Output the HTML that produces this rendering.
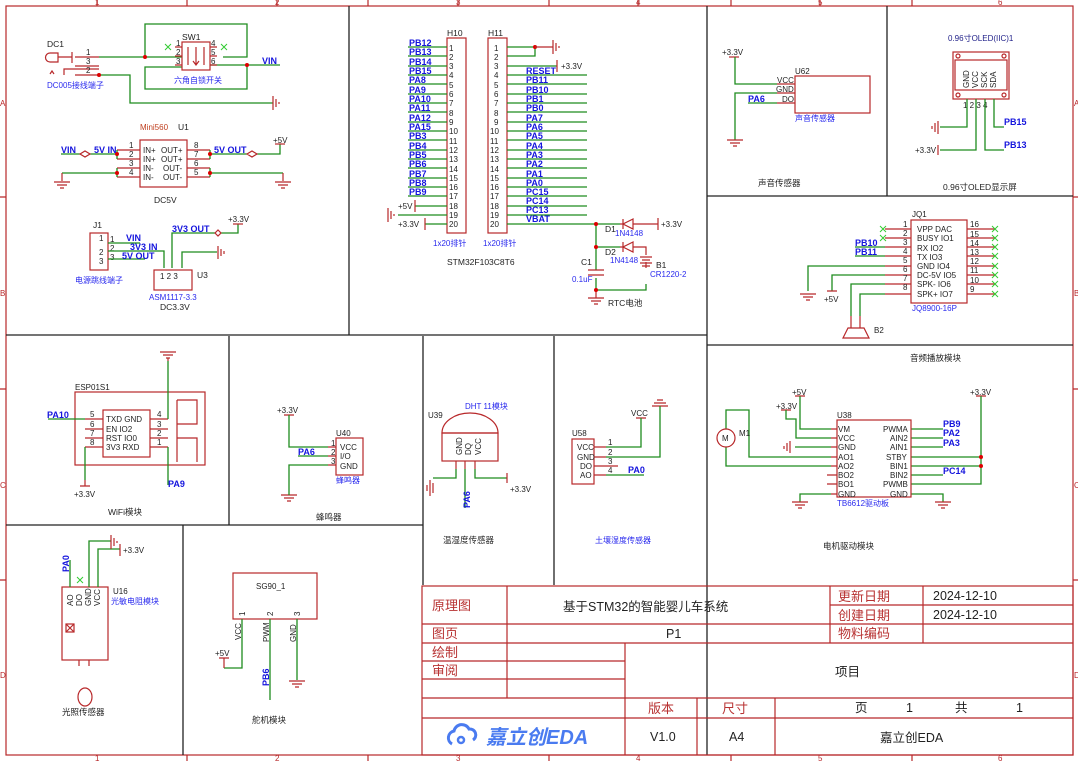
<!DOCTYPE html>
<html><head><meta charset="utf-8"><style>
html,body{margin:0;padding:0;background:#fff}
svg{display:block}
text{font-family:"Liberation Sans","Noto Sans CJK SC",sans-serif}
.r{stroke:#b8282a;fill:none;stroke-width:1.2}
.g{stroke:#1e8c1e;fill:none;stroke-width:1.3}
.k{stroke:#222;fill:none;stroke-width:1.3}
.b{fill:#1515dd;font-weight:bold;font-size:9px}
.bl{fill:#2a2aee;font-size:8px}
.t{fill:#222;font-size:8.5px}
.n{fill:#222;font-size:8px}
.c{fill:#222;font-size:8px}
.tb{fill:#b83232;font-size:13px}
.tk{fill:#222;font-size:12.5px}
</style></head><body>
<svg width="1078" height="761" viewBox="0 0 1078 761" xmlns="http://www.w3.org/2000/svg">
<rect x="0" y="0" width="1078" height="761" fill="#fff"/>
<!-- outer frame -->
<rect x="6" y="6" width="1067" height="749" class="r" stroke-width="1.5"/>
<g class="r">
<path d="M97 0V6M187 0V6M277 0V6M368 0V6M458 0V6M549 0V6M638 0V6M731 0V6M820 0V6M912 0V6"/>
<path d="M187 755V761M368 755V761M549 755V761M731 755V761M912 755V761"/>
<path d="M0 197H6M0 389H6M0 580H6M1073 197H1078M1073 389H1078M1073 580H1078"/>
</g>
<g fill="#b8282a" font-size="8"><text x="95" y="5">1</text><text x="275" y="5">2</text><text x="456" y="5">3</text><text x="636" y="5">4</text><text x="818" y="5">5</text><text x="998" y="5">6</text>
<text x="95" y="761">1</text><text x="275" y="761">2</text><text x="456" y="761">3</text><text x="636" y="761">4</text><text x="818" y="761">5</text><text x="998" y="761">6</text>
<text x="0" y="106">A</text><text x="0" y="296">B</text><text x="0" y="488">C</text><text x="0" y="678">D</text>
<text x="1074" y="106">A</text><text x="1074" y="296">B</text><text x="1074" y="488">C</text><text x="1074" y="678">D</text></g>
<!-- section lines -->
<g class="k">
<path d="M349 6V335M6 335H707M707 6V755M887 6V196M707 196H1073M707 345H1073"/>
<path d="M229 336V525M423 336V585M554 336V585M6 525H423M183 525V755"/>
</g>

<!-- ===== Power section ===== -->
<text x="47" y="47" class="t">DC1</text>
<path class="r" d="M58 53h-8a4 4 0 0 0 0 9h8zM72 52v11M58 57h14"/>
<path class="r" d="M75 57h24M75 66h24M75 75h24M50 74l2-3 2 3M64 75v-6h35"/>
<text x="86" y="55" class="n">1</text><text x="86" y="64" class="n">3</text><text x="86" y="73" class="n">2</text>
<path class="g" d="M99 57H182M99 75h31v28h143M145 57V24h102v33h-24M210 65h70M247 65v24H145V67h37"/>
<circle cx="145" cy="57" r="2" fill="#d00"/><circle cx="247" cy="65" r="2" fill="#d00"/><circle cx="99" cy="75" r="2" fill="#d00"/>
<rect x="182" y="42" width="28" height="28" class="r"/>
<path class="r" d="M175 47h7M175 56h7M175 65h7M210 47h7M210 56h7M210 65h7M196 47v18M193 61l3 4 3-4M188 47v18M204 47v18"/>
<text x="182" y="40" class="t">SW1</text>
<g class="n"><text x="176" y="46">1</text><text x="176" y="55">2</text><text x="176" y="64">3</text><text x="211" y="46">4</text><text x="211" y="55">5</text><text x="211" y="64">6</text></g>
<path stroke="#3c3" d="M165 44l6 6M171 44l-6 6M221 44l6 6M227 44l-6 6"/>
<text x="262" y="64" class="b">VIN</text>
<text x="174" y="83" class="bl">六角自锁开关</text>
<text x="47" y="88" class="bl">DC005接线端子</text>
<path class="r" d="M273 96v14M276 99v8M279 102v2"/>

<text x="140" y="130" fill="#c04020" font-size="8">Mini560</text><text x="178" y="130" class="t">U1</text>
<rect x="140" y="140" width="47" height="47" class="r"/>
<path class="r" d="M117 150h23M117 159h23M117 168h23M117 177h23M187 150h23M187 159h23M187 168h23M187 177h23"/>
<g class="n"><text x="129" y="148">1</text><text x="129" y="157">2</text><text x="129" y="166">3</text><text x="129" y="175">4</text><text x="194" y="148">8</text><text x="194" y="157">7</text><text x="194" y="166">6</text><text x="194" y="175">5</text>
<text x="143" y="153">IN+</text><text x="143" y="162">IN+</text><text x="143" y="171">IN-</text><text x="143" y="180">IN-</text>
<text x="161" y="153">OUT+</text><text x="161" y="162">OUT+</text><text x="163" y="171">OUT-</text><text x="163" y="180">OUT-</text></g>
<path class="g" d="M61 154h19M90 154h27M117 150v9M62 173h55M117 168v9M210 150v9M210 154h37M257 154h23v-10M210 168v9M210 173h73"/>
<path class="r" d="M80 154l5-3 5 3-5 3zM247 154l5-3 5 3-5 3z"/>
<circle cx="117" cy="154" r="2" fill="#d00"/><circle cx="117" cy="173" r="2" fill="#d00"/><circle cx="210" cy="154" r="2" fill="#d00"/><circle cx="210" cy="173" r="2" fill="#d00"/>
<text x="61" y="153" class="b">VIN</text><text x="94" y="153" class="b">5V IN</text><text x="214" y="153" class="b">5V OUT</text>
<text x="273" y="143" class="n">+5V</text><path class="r" d="M275 144h10"/>
<path class="r" d="M62 173v8M54 182h16M57 185h10M60 188h4M283 173v8M275 182h16M278 185h10M281 188h4"/>
<text x="154" y="203" class="t">DC5V</text>

<text x="93" y="228" class="t">J1</text>
<rect x="90" y="233" width="18" height="37" class="r"/>
<g class="n"><text x="99" y="241">1</text><text x="99" y="255">2</text><text x="99" y="264">3</text><text x="110" y="242">1</text><text x="110" y="251">2</text><text x="110" y="260">3</text></g>
<path class="g" d="M108 243h32M108 251h56v17M108 259h37M172 268v-35h43M221 233h17v-9M182 268v-16h35"/>
<path class="r" d="M215 233l3-3 3 3-3 3z"/>
<text x="126" y="241" class="b">VIN</text><text x="130" y="250" class="b">3V3 IN</text><text x="122" y="259" class="b">5V OUT</text>
<text x="172" y="232" class="b">3V3 OUT</text><text x="228" y="222" class="n">+3.3V</text><path class="r" d="M233 224h10"/>
<path class="r" d="M218 246v13M221 249v7M224 251v3"/>
<rect x="154" y="270" width="38" height="20" class="r"/>
<g class="n"><text x="160" y="279">1 2 3</text></g>
<text x="197" y="278" class="t">U3</text>
<text x="149" y="300" class="bl">ASM1117-3.3</text><text x="160" y="310" class="t">DC3.3V</text>
<text x="75" y="283" class="bl">电源跳线端子</text>

<!-- ===== H10/H11 ===== -->
<text x="447" y="36" class="t">H10</text><text x="488" y="36" class="t">H11</text>
<rect x="447" y="38" width="19" height="195" class="r"/>
<rect x="488" y="38" width="19" height="195" class="r"/>
<g class="n">
<text x="449" y="51">1</text><text x="449" y="60">2</text><text x="449" y="69">3</text><text x="449" y="78">4</text><text x="449" y="88">5</text><text x="449" y="97">6</text><text x="449" y="106">7</text><text x="449" y="116">8</text><text x="449" y="125">9</text><text x="449" y="134">10</text><text x="449" y="144">11</text><text x="449" y="153">12</text><text x="449" y="162">13</text><text x="449" y="172">14</text><text x="449" y="181">15</text><text x="449" y="190">16</text><text x="449" y="199">17</text><text x="449" y="209">18</text><text x="449" y="218">19</text><text x="449" y="227">20</text>
<text x="494" y="51">1</text><text x="494" y="60">2</text><text x="494" y="69">3</text><text x="494" y="78">4</text><text x="494" y="88">5</text><text x="494" y="97">6</text><text x="494" y="106">7</text><text x="494" y="116">8</text><text x="494" y="125">9</text><text x="490" y="134">10</text><text x="490" y="144">11</text><text x="490" y="153">12</text><text x="490" y="162">13</text><text x="490" y="172">14</text><text x="490" y="181">15</text><text x="490" y="190">16</text><text x="490" y="199">17</text><text x="490" y="209">18</text><text x="490" y="218">19</text><text x="490" y="227">20</text>
</g>
<path class="g" d="M408 47h39M408 56h39M408 66h39M408 75h39M408 84h39M408 94h39M408 103h39M408 112h39M408 122h39M408 131h39M408 140h39M408 150h39M408 159h39M408 168h39M408 178h39M408 187h39M408 196h39M415 206h32M398 215h49M425 224h22"/>
<path class="g" d="M507 47h28M507 56h28v-9M507 66h50M507 75h80M507 84h80M507 94h80M507 103h80M507 112h80M507 122h80M507 131h80M507 140h80M507 150h80M507 159h80M507 168h80M507 178h80M507 187h80M507 196h80M507 206h80M507 215h80M507 224h89"/>
<circle cx="535" cy="47" r="2" fill="#d00"/>
<path class="r" d="M535 47h18M553 40v14M556 43v8M559 46v2M557 60v12M415 200v12M425 218v12M388 208v14M391 211v8M394 214v2"/>
<g class="b" font-size="8.5">
<text x="409" y="46">PB12</text><text x="409" y="55">PB13</text><text x="409" y="65">PB14</text><text x="409" y="74">PB15</text><text x="409" y="83">PA8</text><text x="409" y="93">PA9</text><text x="409" y="102">PA10</text><text x="409" y="111">PA11</text><text x="409" y="121">PA12</text><text x="409" y="130">PA15</text><text x="409" y="139">PB3</text><text x="409" y="149">PB4</text><text x="409" y="158">PB5</text><text x="409" y="167">PB6</text><text x="409" y="177">PB7</text><text x="409" y="186">PB8</text><text x="409" y="195">PB9</text>
<text x="526" y="74">RESET</text><text x="526" y="83">PB11</text><text x="526" y="93">PB10</text><text x="526" y="102">PB1</text><text x="526" y="111">PB0</text><text x="526" y="121">PA7</text><text x="526" y="130">PA6</text><text x="526" y="139">PA5</text><text x="526" y="149">PA4</text><text x="526" y="158">PA3</text><text x="526" y="167">PA2</text><text x="526" y="177">PA1</text><text x="526" y="186">PA0</text><text x="526" y="195">PC15</text><text x="526" y="204">PC14</text><text x="526" y="213">PC13</text><text x="526" y="222">VBAT</text>
</g>
<text x="398" y="209" class="n">+5V</text><text x="398" y="227" class="n">+3.3V</text><text x="561" y="69" class="n">+3.3V</text>
<text x="433" y="246" class="bl">1x20排针</text><text x="483" y="246" class="bl">1x20排针</text>
<text x="447" y="265" class="t">STM32F103C8T6</text>
<!-- RTC -->
<path class="g" d="M596 224h24M596 224v46M596 247h24M596 278v12h50v-6"/>
<path class="r" d="M620 224h3M633 224h25M620 247h3M633 247h13v8M646 262v6M658 218v12"/>
<path class="r" d="M623 219v10M633 219l-10 5 10 5zM623 242v10M633 242l-10 5 10 5zM588 270h16M588 275h16M596 290v8M588 298h16M591 301h10M594 304h4M640 257h12M642 260h8M640 263h12M642 266h8"/>
<circle cx="596" cy="224" r="2" fill="#d00"/><circle cx="596" cy="247" r="2" fill="#d00"/><circle cx="596" cy="290" r="2" fill="#d00"/>
<text x="605" y="232" class="t">D1</text><text x="615" y="236" class="bl">1N4148</text>
<text x="605" y="255" class="t">D2</text><text x="610" y="263" class="bl">1N4148</text>
<text x="581" y="265" class="t">C1</text><text x="572" y="282" class="bl">0.1uF</text>
<text x="656" y="268" class="t">B1</text><text x="650" y="277" class="bl">CR1220-2</text>
<text x="661" y="227" class="n">+3.3V</text><text x="608" y="306" class="t">RTC电池</text>

<!-- ===== Sound ===== -->
<text x="722" y="55" class="n">+3.3V</text>
<path class="r" d="M729 57h10"/>
<path class="g" d="M735 57v27h42M777 93h-42v47M748 103h29"/>
<path class="r" d="M777 84h18M777 93h18M777 103h18M727 140h16M730 143h10M733 146h4"/>
<rect x="795" y="76" width="75" height="37" class="r"/>
<text x="795" y="74" class="n">U62</text>
<g class="n"><text x="777" y="83">VCC</text><text x="776" y="92">GND</text><text x="782" y="102">DO</text></g>
<text x="748" y="102" class="b">PA6</text>
<text x="795" y="121" class="bl">声音传感器</text>
<text x="758" y="186" class="t">声音传感器</text>
<!-- OLED -->
<text x="948" y="41" fill="#22228a" font-size="8">0.96寸OLED(IIC)1</text>
<rect x="953" y="52" width="56" height="47" class="r"/><rect x="955" y="60" width="52" height="30" class="r"/>
<circle cx="958" cy="56" r="2" class="r"/><circle cx="1004" cy="56" r="2" class="r"/><circle cx="958" cy="95" r="2" class="r"/><circle cx="1004" cy="95" r="2" class="r"/>
<g class="n" font-size="7.5"><text transform="translate(969,88) rotate(-90)">GND</text><text transform="translate(978,88) rotate(-90)">VCC</text><text transform="translate(987,88) rotate(-90)">SCK</text><text transform="translate(996,88) rotate(-90)">SDA</text>
<text x="963" y="108">1 2 3 4</text></g>
<path class="g" d="M967 99v28h-27M976 99v51h-36M985 99v51h19M994 99v28h10"/>
<path class="r" d="M938 121v13M935 123v9M932 126v3M938 145v10"/>
<text x="915" y="153" class="n">+3.3V</text>
<text x="1004" y="125" class="b">PB15</text><text x="1004" y="148" class="b">PB13</text>
<text x="943" y="190" class="t">0.96寸OLED显示屏</text>
<!-- JQ -->
<text x="912" y="217" class="n">JQ1</text>
<rect x="911" y="220" width="56" height="83" class="r"/>
<path class="r" d="M885 229h26M885 238h26M885 247h26M885 256h26M885 266h26M885 275h26M885 284h26M885 294h26M967 229h28M967 238h28M967 247h28M967 256h28M967 266h28M967 275h28M967 284h28M967 294h28"/>
<path stroke="#3c3" d="M880 226l6 6M886 226l-6 6M880 235l6 6M886 235l-6 6M992 226l6 6M998 226l-6 6M992 235l6 6M998 235l-6 6M992 244l6 6M998 244l-6 6M992 253l6 6M998 253l-6 6M992 263l6 6M998 263l-6 6M992 272l6 6M998 272l-6 6M992 281l6 6M998 281l-6 6M992 291l6 6M998 291l-6 6"/>
<g class="n"><text x="903" y="227">1</text><text x="903" y="236">2</text><text x="903" y="245">3</text><text x="903" y="254">4</text><text x="903" y="263">5</text><text x="903" y="272">6</text><text x="903" y="281">7</text><text x="903" y="290">8</text>
<text x="970" y="227">16</text><text x="970" y="237">15</text><text x="970" y="246">14</text><text x="970" y="255">13</text><text x="970" y="264">12</text><text x="970" y="273">11</text><text x="970" y="283">10</text><text x="970" y="292">9</text>
<text x="917" y="232">VPP  DAC</text><text x="917" y="241">BUSY IO1</text><text x="917" y="251">RX      IO2</text><text x="917" y="260">TX      IO3</text><text x="917" y="269">GND   IO4</text><text x="917" y="278">DC-5V IO5</text><text x="917" y="287">SPK-   IO6</text><text x="917" y="297">SPK+  IO7</text></g>
<path class="g" d="M855 247h30M855 256h30M885 266h-77v25M885 275h-53v16M885 284h-34v32M885 294h-25v22"/>
<path class="r" d="M800 294h16M803 297h10M806 300h4M827 291h10M851 316v12M860 316v12M848 328h16l5 10h-26z"/>
<text x="855" y="246" class="b">PB10</text><text x="855" y="255" class="b">PB11</text>
<text x="824" y="302" class="n">+5V</text>
<text x="912" y="311" class="bl">JQ8900-16P</text>
<text x="874" y="333" class="n">B2</text>
<text x="910" y="361" class="t">音频播放模块</text>

<!-- ===== Motor ===== -->
<text x="792" y="395" class="n">+5V</text><text x="776" y="409" class="n">+3.3V</text><text x="970" y="395" class="n">+3.3V</text>
<path class="r" d="M795 396h10M781 410h10M976 396h10"/>
<path class="g" d="M800 396v33h31M786 410v9h10v19h35M795 447h36M726 429v-19h23v47h82M726 447v19h105M831 494h-31v8M911 429h32M911 438h32M911 447h32M911 457h70M911 466h70M911 475h32M911 484h70v-88M911 494h32v8"/>
<path class="r" d="M831 429h6M831 438h6M831 447h6M831 457h6M831 466h6M827 475h10M827 484h10M831 494h6M790 441v12M787 443v8M784 446v3M792 502h16M795 505h10M798 508h4M935 502h16M938 505h10M941 508h4"/>
<circle cx="726" cy="438" r="9" class="r"/><text x="722" y="441" class="n">M</text><text x="739" y="436" class="n">M1</text>
<circle cx="981" cy="457" r="2" fill="#d00"/><circle cx="981" cy="466" r="2" fill="#d00"/>
<rect x="837" y="420" width="74" height="77" class="r"/>
<text x="837" y="418" class="n">U38</text>
<g class="n"><text x="838" y="432">VM</text><text x="838" y="441">VCC</text><text x="838" y="450">GND</text><text x="838" y="460">AO1</text><text x="838" y="469">AO2</text><text x="838" y="478">BO2</text><text x="838" y="487">BO1</text><text x="838" y="497">GND</text>
<text x="883" y="432">PWMA</text><text x="890" y="441">AIN2</text><text x="890" y="450">AIN1</text><text x="886" y="460">STBY</text><text x="890" y="469">BIN1</text><text x="890" y="478">BIN2</text><text x="883" y="487">PWMB</text><text x="890" y="497">GND</text></g>
<text x="943" y="427" class="b">PB9</text><text x="943" y="436" class="b">PA2</text><text x="943" y="446" class="b">PA3</text><text x="943" y="474" class="b">PC14</text>
<text x="837" y="506" class="bl">TB6612驱动板</text>
<text x="823" y="549" class="t">电机驱动模块</text>

<!-- ===== WiFi ===== -->
<text x="75" y="390" class="n">ESP01S1</text>
<rect x="75" y="392" width="130" height="73" class="r"/>
<rect x="103" y="410" width="47" height="47" class="r"/>
<path class="r" d="M177 400h20v24h-20M177 400v62M177 438h20v24M160 352h16M163 355h10M166 358h4M168 358v3M85 480v6M80 486h10"/>
<path class="r" d="M85 419h18M85 429h18M85 438h18M85 447h18M150 419h18M150 429h18M150 438h18M150 447h18"/>
<path class="g" d="M48 419h37M168 419V361M85 447v33M168 447v38"/>
<g class="n"><text x="90" y="417">5</text><text x="90" y="427">6</text><text x="90" y="436">7</text><text x="90" y="445">8</text><text x="157" y="417">4</text><text x="157" y="427">3</text><text x="157" y="436">2</text><text x="157" y="445">1</text>
<text x="106" y="422">TXD  GND</text><text x="106" y="432">EN       IO2</text><text x="106" y="441">RST    IO0</text><text x="106" y="450">3V3   RXD</text></g>
<text x="47" y="418" class="b">PA10</text><text x="168" y="487" class="b">PA9</text>
<text x="74" y="497" class="n">+3.3V</text>
<text x="108" y="515" class="t">WiFi模块</text>
<!-- buzzer -->
<text x="277" y="413" class="n">+3.3V</text>
<path class="r" d="M284 415h10M328 447h8M328 456h8M328 465h8M281 495h16M284 498h10M287 501h4"/>
<path class="g" d="M289 415v32h39M298 456h30M328 465h-39v30"/>
<rect x="336" y="438" width="27" height="37" class="r"/>
<text x="336" y="436" class="n">U40</text>
<g class="n"><text x="340" y="450">VCC</text><text x="340" y="459">I/O</text><text x="340" y="469">GND</text><text x="331" y="446">1</text><text x="331" y="455">2</text><text x="331" y="464">3</text></g>
<text x="298" y="455" class="b">PA6</text>
<text x="336" y="483" class="bl">蜂鸣器</text>
<text x="316" y="520" class="t">蜂鸣器</text>
<!-- DHT -->
<text x="428" y="418" class="n">U39</text><text x="465" y="409" class="bl">DHT 11模块</text>
<path class="r" d="M442 433a28 20 0 0 1 56 0z"/>
<rect x="442" y="433" width="56" height="28" class="r"/>
<g class="n" font-size="7.5"><text transform="translate(462,455) rotate(-90)">GND</text><text transform="translate(471,455) rotate(-90)">DQ</text><text transform="translate(481,455) rotate(-90)">VCC</text></g>
<path class="r" d="M456 461v8M465 461v8M475 461v8M430 480v16M433 483v10M427 485v6"/>
<path class="g" d="M456 469v9h-23M465 469v39M475 469v9h32"/>
<path class="r" d="M507 473v10"/>
<text x="510" y="492" class="n">+3.3V</text>
<text transform="translate(470,508) rotate(-90)" class="b">PA6</text>
<text x="443" y="543" class="t">温湿度传感器</text>
<!-- soil -->
<text x="572" y="436" class="n">U58</text>
<rect x="572" y="439" width="22" height="45" class="r"/>
<g class="n"><text x="577" y="450">VCC</text><text x="577" y="460">GND</text><text x="580" y="469">DO</text><text x="580" y="478">AO</text><text x="608" y="445">1</text><text x="608" y="455">2</text><text x="608" y="464">3</text><text x="608" y="473">4</text></g>
<path class="r" d="M594 447h12M594 457h12M594 466h24M594 475h12M636 418h10M652 406h16M654 403h12M657 400h6"/>
<path class="g" d="M606 447h35v-29M606 457h54v-51M606 475h38"/>
<text x="631" y="416" class="n">VCC</text>
<text x="628" y="473" class="b">PA0</text>
<text x="595" y="543" class="bl">土壤湿度传感器</text>
<!-- light -->
<rect x="62" y="587" width="46" height="73" class="r"/>
<g class="n" font-size="7.5"><text transform="translate(73,606) rotate(-90)">AO</text><text transform="translate(82,606) rotate(-90)">DO</text><text transform="translate(91,606) rotate(-90)">GND</text><text transform="translate(100,606) rotate(-90)">VCC</text></g>
<path class="g" d="M70 560v27M89 587V541h22M98 587v-38h22"/>
<path class="r" d="M111 535v14M114 538v8M117 541v2M120 544v12M79 660v6M89 660v6"/>
<path stroke="#3c3" d="M77 577l6 6M83 577l-6 6"/>
<text transform="translate(69,572) rotate(-90)" class="b">PA0</text>
<text x="123" y="553" class="n">+3.3V</text>
<text x="113" y="594" class="n">U16</text><text x="111" y="604" class="bl">光敏电阻模块</text>
<rect x="66" y="624" width="8" height="8" class="r"/><path class="r" d="M66 624l8 8M74 624l-8 8"/>
<ellipse cx="85" cy="697" rx="7" ry="9" class="r"/>
<text x="62" y="715" class="t">光照传感器</text>
<!-- servo -->
<rect x="233" y="573" width="84" height="46" class="r"/>
<text x="256" y="589" class="n">SG90_1</text>
<g class="n" font-size="7.5"><text transform="translate(245,616) rotate(-90)">1</text><text transform="translate(273,616) rotate(-90)">2</text><text transform="translate(300,616) rotate(-90)">3</text>
<text transform="translate(241,640) rotate(-90)">VCC</text><text transform="translate(269,642) rotate(-90)">PWM</text><text transform="translate(296,642) rotate(-90)">GND</text></g>
<path class="g" d="M242 619v49h-18M270 619v81M297 619v61"/>
<path class="r" d="M224 668v-10M219 658h10M289 681h16M292 684h10M295 687h4"/>
<text x="215" y="656" class="n">+5V</text>
<text transform="translate(269,686) rotate(-90)" class="b">PB6</text>
<text x="252" y="723" class="t">舵机模块</text>

<!-- ===== Title block ===== -->
<g class="r" stroke-width="1.4">
<rect x="422" y="586" width="651" height="169"/>
<path d="M422 624H1073M422 643H625M422 661H625M422 679H625M422 698H1073M625 643H1073M422 718H1073"/>
<path d="M507 586V698M625 643V755M697 698V755M775 698V755M830 586V643M923 586V643M830 605H1073"/>
</g>
<g class="tb"><text x="432" y="610">原理图</text><text x="432" y="638">图页</text><text x="432" y="657">绘制</text><text x="432" y="675">审阅</text>
<text x="648" y="713">版本</text><text x="722" y="713">尺寸</text><text x="838" y="601">更新日期</text><text x="838" y="620">创建日期</text><text x="838" y="638">物料编码</text></g>
<text x="563" y="611" class="tk" font-size="15">基于STM32的智能婴儿车系统</text>
<text x="666" y="638" class="tk">P1</text>
<text x="933" y="600" class="tk">2024-12-10</text><text x="933" y="619" class="tk">2024-12-10</text>
<text x="835" y="676" class="tk" font-size="14">项目</text>
<text x="855" y="712" class="tk">页</text><text x="906" y="712" class="tk">1</text><text x="955" y="712" class="tk">共</text><text x="1016" y="712" class="tk">1</text>
<text x="650" y="741" class="tk">V1.0</text><text x="729" y="741" class="tk">A4</text>
<text x="880" y="742" class="tk" font-size="15">嘉立创EDA</text>
<path d="M452 744a7 7 0 0 1 2-13a8 8 0 0 1 15-2a6 6 0 0 1 4 11" fill="none" stroke="#4a7bf0" stroke-width="3"/>
<circle cx="461" cy="740" r="3" fill="none" stroke="#4a7bf0" stroke-width="2.5"/>
<text x="486" y="744" fill="#4a7bf0" font-size="20" font-weight="bold" font-style="italic">嘉立创EDA</text>
</svg>
</body></html>
